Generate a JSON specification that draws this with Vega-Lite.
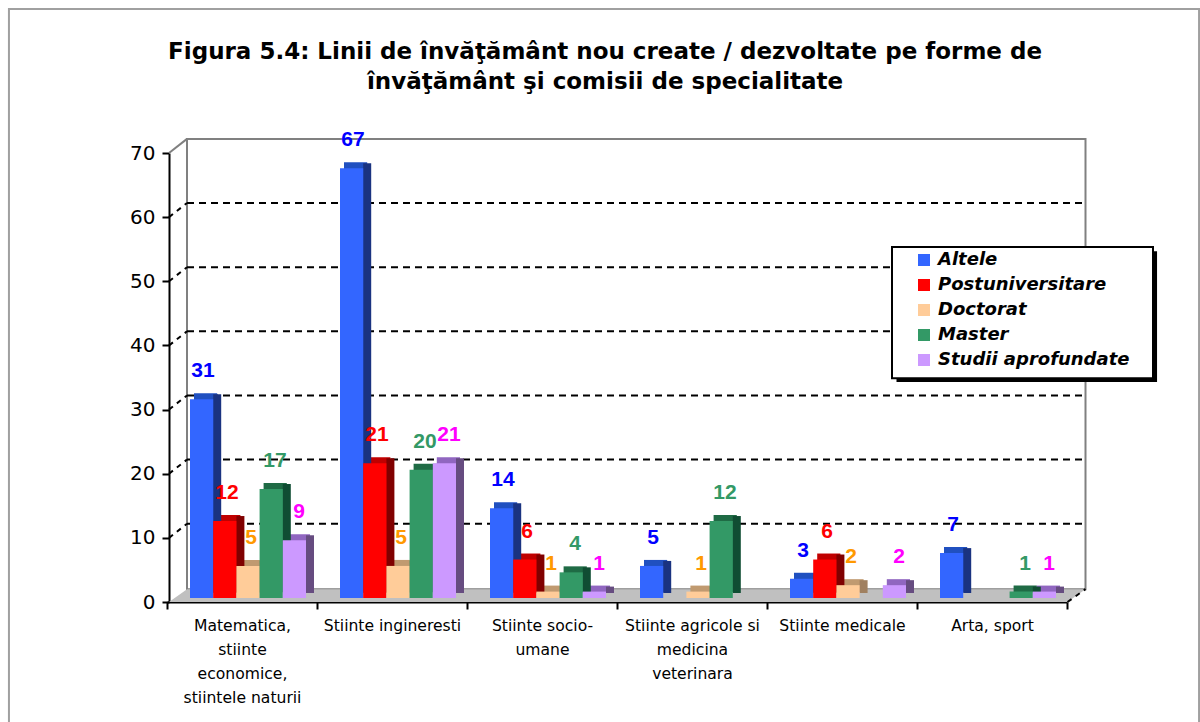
{
"$schema":"https://vega.github.io/schema/vega-lite/v6.json",
"width":1200,"height":722,"autosize":{"type":"none"},"padding":0,"background":"white",
"config":{"view":{"stroke":null}},
"datasets":{
"bars":[
{"c":"Matematica, stiinte economice, stiintele naturii","s":"Altele","v":31},
{"c":"Matematica, stiinte economice, stiintele naturii","s":"Postuniversitare","v":12},
{"c":"Matematica, stiinte economice, stiintele naturii","s":"Doctorat","v":5},
{"c":"Matematica, stiinte economice, stiintele naturii","s":"Master","v":17},
{"c":"Matematica, stiinte economice, stiintele naturii","s":"Studii aprofundate","v":9},
{"c":"Stiinte ingineresti","s":"Altele","v":67},
{"c":"Stiinte ingineresti","s":"Postuniversitare","v":21},
{"c":"Stiinte ingineresti","s":"Doctorat","v":5},
{"c":"Stiinte ingineresti","s":"Master","v":20},
{"c":"Stiinte ingineresti","s":"Studii aprofundate","v":21},
{"c":"Stiinte socio-umane","s":"Altele","v":14},
{"c":"Stiinte socio-umane","s":"Postuniversitare","v":6},
{"c":"Stiinte socio-umane","s":"Doctorat","v":1},
{"c":"Stiinte socio-umane","s":"Master","v":4},
{"c":"Stiinte socio-umane","s":"Studii aprofundate","v":1},
{"c":"Stiinte agricole si medicina veterinara","s":"Altele","v":5},
{"c":"Stiinte agricole si medicina veterinara","s":"Doctorat","v":1},
{"c":"Stiinte agricole si medicina veterinara","s":"Master","v":12},
{"c":"Stiinte medicale","s":"Altele","v":3},
{"c":"Stiinte medicale","s":"Postuniversitare","v":6},
{"c":"Stiinte medicale","s":"Doctorat","v":2},
{"c":"Stiinte medicale","s":"Studii aprofundate","v":2},
{"c":"Arta, sport","s":"Altele","v":7},
{"c":"Arta, sport","s":"Master","v":1},
{"c":"Arta, sport","s":"Studii aprofundate","v":1}
],
"frame":[{"a":-1.067,"b":-18.7,"o":1},{"a":-1.067,"b":92.45,"o":2},{"a":6.867,"b":92.45,"o":3},{"a":6.867,"b":-18.7,"o":4}],
"wall":[{"a":0.12,"a2":6.11,"b":2,"b2":72.2}],
"floor":[{"a":0,"b":0,"b2":0},{"a":0.12,"b":2,"b2":0},{"a":5.99,"b":2,"b2":0},{"a":6.11,"b":2,"b2":2}],
"grid":[{"b":12.2},{"b":22.2},{"b":32.2},{"b":42.2},{"b":52.2},{"b":62.2}],
"slants":[
{"k":"10","a":0,"b":10},{"k":"10","a":0.12,"b":12.2},
{"k":"20","a":0,"b":20},{"k":"20","a":0.12,"b":22.2},
{"k":"30","a":0,"b":30},{"k":"30","a":0.12,"b":32.2},
{"k":"40","a":0,"b":40},{"k":"40","a":0.12,"b":42.2},
{"k":"50","a":0,"b":50},{"k":"50","a":0.12,"b":52.2},
{"k":"60","a":0,"b":60},{"k":"60","a":0.12,"b":62.2},
{"k":"end","a":5.99,"b":0},{"k":"end","a":6.11,"b":2}
],
"topslant":[{"a":0,"b":70},{"a":0.12,"b":72.2}],
"shadow":[{"a":4.85,"a2":6.587,"b":34.3,"b2":54.7}],
"box":[{"a":4.82,"a2":6.56,"b":34.9,"b2":55.35}],
"heading":[{"t":"Figura 5.4: Linii de învăţământ nou create / dezvoltate pe forme de","a":2.907,"b":85.75},{"t":"învăţământ şi comisii de specialitate","a":2.907,"b":81.1}]
},
"resolve":{"scale":{"x":"independent","y":"independent","color":"independent","xOffset":"independent"},"axis":{"x":"independent","y":"independent"},"legend":{"color":"independent"}},
"layer":[
{"data":{"name":"frame"},"mark":{"type":"line","color":"#A0A0A0","strokeWidth":2,"clip":false},
"encoding":{"x":{"field":"a","type":"quantitative","axis":null,"scale":{"domain":[0,6],"range":[169,1069],"nice":false,"zero":false}},
"y":{"field":"b","type":"quantitative","scale":{"domain":[0,70],"range":[602,153],"nice":false,"zero":false},
"axis":{"orient":"left","offset":-169,"title":null,"values":[0,10,20,30,40,50,60,70],"grid":false,"domainColor":"black","domainWidth":2,"tickColor":"black","tickWidth":2,"tickSize":7,"labelFont":"DejaVu Sans","labelFontSize":20,"labelColor":"black","labelPadding":7}},
"order":{"field":"o","type":"quantitative"}}},
{"data":{"name":"heading"},"mark":{"type":"text","font":"DejaVu Sans","fontWeight":"bold","fontSize":23,"color":"black","baseline":"middle"},
"encoding":{"x":{"field":"a","type":"quantitative","axis":null,"scale":{"domain":[0,6],"range":[169,1069],"nice":false,"zero":false}},
"y":{"field":"b","type":"quantitative","axis":null,"scale":{"domain":[0,70],"range":[602,153],"nice":false,"zero":false}},
"text":{"field":"t","type":"nominal"}}},
{"data":{"name":"wall"},"mark":{"type":"rect","fill":"white","stroke":"#808080","strokeWidth":2},
"encoding":{"x":{"field":"a","type":"quantitative","axis":null,"scale":{"domain":[0,6],"range":[169,1069],"nice":false,"zero":false}},"x2":{"field":"a2"},
"y":{"field":"b","type":"quantitative","axis":null,"scale":{"domain":[0,70],"range":[602,153],"nice":false,"zero":false}},"y2":{"field":"b2"}}},
{"data":{"name":"floor"},"mark":{"type":"area","color":"#C0C0C0","orient":"vertical"},
"encoding":{"x":{"field":"a","type":"quantitative","axis":null,"scale":{"domain":[0,6],"range":[169,1069],"nice":false,"zero":false}},
"y":{"field":"b","type":"quantitative","axis":null,"scale":{"domain":[0,70],"range":[602,153],"nice":false,"zero":false}},"y2":{"field":"b2"}}},
{"data":{"name":"grid"},"mark":{"type":"rule","color":"black","strokeWidth":2,"strokeDash":[7,5]},
"encoding":{"x":{"datum":0.12,"type":"quantitative","axis":null,"scale":{"domain":[0,6],"range":[169,1069],"nice":false,"zero":false}},"x2":{"datum":6.11},
"y":{"field":"b","type":"quantitative","axis":null,"scale":{"domain":[0,70],"range":[602,153],"nice":false,"zero":false}}}},
{"data":{"name":"slants"},"mark":{"type":"line","color":"black","strokeWidth":2,"strokeDash":[5,5]},
"encoding":{"x":{"field":"a","type":"quantitative","axis":null,"scale":{"domain":[0,6],"range":[169,1069],"nice":false,"zero":false}},
"y":{"field":"b","type":"quantitative","axis":null,"scale":{"domain":[0,70],"range":[602,153],"nice":false,"zero":false}},"detail":{"field":"k"}}},
{"data":{"name":"topslant"},"mark":{"type":"line","color":"#808080","strokeWidth":2},
"encoding":{"x":{"field":"a","type":"quantitative","axis":null,"scale":{"domain":[0,6],"range":[169,1069],"nice":false,"zero":false}},
"y":{"field":"b","type":"quantitative","axis":null,"scale":{"domain":[0,70],"range":[602,153],"nice":false,"zero":false}}}},
{"data":{"name":"bars"},"mark":{"type":"bar"},
"encoding":{
"x":{"field":"c","type":"nominal","sort":null,"axis":null,"scale":{"domain":["Matematica, stiinte economice, stiintele naturii","Stiinte ingineresti","Stiinte socio-umane","Stiinte agricole si medicina veterinara","Stiinte medicale","Arta, sport"],"range":[167,1067],"paddingInner":0,"paddingOuter":0}},
"xOffset":{"field":"s","type":"nominal","scale":{"domain":["Altele","Postuniversitare","Doctorat","Master","Studii aprofundate"],"range":[27,143],"paddingInner":0,"paddingOuter":0}},
"y":{"field":"v","type":"quantitative","axis":null,"scale":{"domain":[0,70],"range":[592,143],"nice":false}},
"color":{"field":"s","type":"nominal","legend":null,"scale":{"domain":["Altele","Postuniversitare","Doctorat","Master","Studii aprofundate"],"range":["#2050C0","#C00000","#C09A70","#1F6B45","#9066C0"]}}}},
{"data":{"name":"bars"},"mark":{"type":"bar","width":8},
"encoding":{
"x":{"field":"c","type":"nominal","sort":null,"axis":null,"scale":{"domain":["Matematica, stiinte economice, stiintele naturii","Stiinte ingineresti","Stiinte socio-umane","Stiinte agricole si medicina veterinara","Stiinte medicale","Arta, sport"],"range":[167,1067],"paddingInner":0,"paddingOuter":0}},
"xOffset":{"field":"s","type":"nominal","scale":{"domain":["Altele","Postuniversitare","Doctorat","Master","Studii aprofundate"],"range":[38.6,154.6],"paddingInner":0,"paddingOuter":0}},
"y":{"field":"v","type":"quantitative","axis":null,"scale":{"domain":[0,70],"range":[593,144],"nice":false}},
"color":{"field":"s","type":"nominal","legend":null,"scale":{"domain":["Altele","Postuniversitare","Doctorat","Master","Studii aprofundate"],"range":["#1A3380","#800000","#A08060","#104D33","#664C80"]}}}},
{"data":{"name":"bars"},"mark":{"type":"bar"},
"encoding":{
"x":{"field":"c","type":"nominal","sort":null,"scale":{"domain":["Matematica, stiinte economice, stiintele naturii","Stiinte ingineresti","Stiinte socio-umane","Stiinte agricole si medicina veterinara","Stiinte medicale","Arta, sport"],"range":[167,1067],"paddingInner":0,"paddingOuter":0},
"axis":{"orient":"bottom","offset":-120,"title":null,"labelAngle":0,"domainColor":"black","domainWidth":2,"tickColor":"black","tickWidth":2,"tickSize":7,"tickBand":"extent","labelFont":"DejaVu Sans","labelFontSize":15.6,"labelColor":"black","labelPadding":9,"labelLineHeight":24,"labelLimit":0,"labelBaseline":"top",
"labelExpr":"datum.label == 'Matematica, stiinte economice, stiintele naturii' ? ['Matematica,','stiinte','economice,','stiintele naturii'] : datum.label == 'Stiinte socio-umane' ? ['Stiinte socio-','umane'] : datum.label == 'Stiinte agricole si medicina veterinara' ? ['Stiinte agricole si','medicina','veterinara'] : datum.label"}},
"xOffset":{"field":"s","type":"nominal","scale":{"domain":["Altele","Postuniversitare","Doctorat","Master","Studii aprofundate"],"range":[23,139],"paddingInner":0,"paddingOuter":0}},
"y":{"field":"v","type":"quantitative","axis":null,"scale":{"domain":[0,70],"range":[598,149],"nice":false}},
"color":{"field":"s","type":"nominal","legend":null,"scale":{"domain":["Altele","Postuniversitare","Doctorat","Master","Studii aprofundate"],"range":["#3366FF","#FF0000","#FFCC99","#339966","#CC99FF"]}}}},
{"data":{"name":"bars"},"mark":{"type":"text","font":"Liberation Sans","fontWeight":"bold","fontSize":21,"baseline":"middle"},
"encoding":{
"x":{"field":"c","type":"nominal","sort":null,"axis":null,"scale":{"domain":["Matematica, stiinte economice, stiintele naturii","Stiinte ingineresti","Stiinte socio-umane","Stiinte agricole si medicina veterinara","Stiinte medicale","Arta, sport"],"range":[167,1067],"paddingInner":0,"paddingOuter":0}},
"xOffset":{"field":"s","type":"nominal","scale":{"domain":["Altele","Postuniversitare","Doctorat","Master","Studii aprofundate"],"range":[36,132],"paddingInner":0,"paddingOuter":0}},
"y":{"field":"v","type":"quantitative","axis":null,"scale":{"domain":[0,70],"range":[570,121],"nice":false}},
"text":{"field":"v","type":"quantitative"},
"color":{"field":"s","type":"nominal","legend":null,"scale":{"domain":["Altele","Postuniversitare","Doctorat","Master","Studii aprofundate"],"range":["#0000FF","#FF0000","#FF9900","#339966","#FF00FF"]}}}},
{"data":{"name":"shadow"},"mark":{"type":"rect","fill":"black"},
"encoding":{"x":{"field":"a","type":"quantitative","axis":null,"scale":{"domain":[0,6],"range":[169,1069],"nice":false,"zero":false}},"x2":{"field":"a2"},
"y":{"field":"b","type":"quantitative","axis":null,"scale":{"domain":[0,70],"range":[602,153],"nice":false,"zero":false}},"y2":{"field":"b2"}}},
{"data":{"name":"box"},"mark":{"type":"rect","fill":"white","stroke":"black","strokeWidth":2},
"encoding":{"x":{"field":"a","type":"quantitative","axis":null,"scale":{"domain":[0,6],"range":[169,1069],"nice":false,"zero":false}},"x2":{"field":"a2"},
"y":{"field":"b","type":"quantitative","axis":null,"scale":{"domain":[0,70],"range":[602,153],"nice":false,"zero":false}},"y2":{"field":"b2"}}},
{"data":{"name":"bars"},"mark":{"type":"square","size":0,"filled":true,"opacity":1},
"encoding":{
"color":{"field":"s","type":"nominal","scale":{"domain":["Altele","Postuniversitare","Doctorat","Master","Studii aprofundate"],"range":["#3366FF","#FF0000","#FFCC99","#339966","#CC99FF"]},
"legend":{"orient":"none","legendX":915,"legendY":251,"title":null,"symbolType":"square","symbolSize":144,"symbolOpacity":1,"symbolStrokeWidth":0,"labelFont":"DejaVu Sans","labelFontWeight":"bold","labelFontStyle":"italic","labelFontSize":18,"labelColor":"black","labelOffset":5,"labelLimit":0,"rowPadding":7,"padding":0}}}}
]
}
